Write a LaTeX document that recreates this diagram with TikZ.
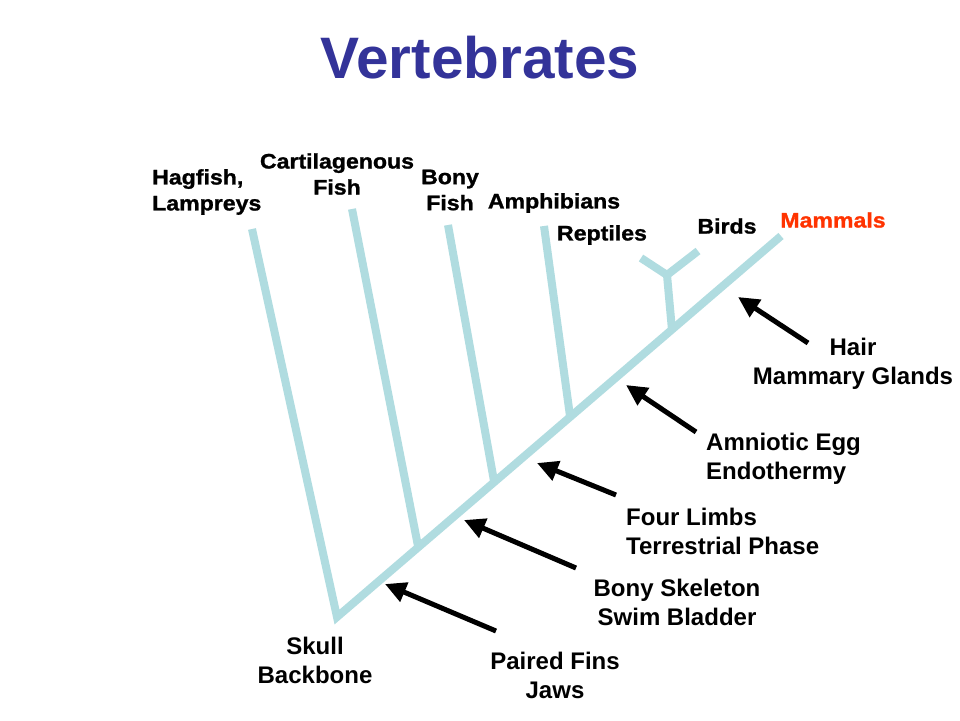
\documentclass[tikz,border=0pt]{standalone}
\usepackage{fontspec}
\setmainfont{Liberation Sans}
\newfontfamily\tipfont[FakeStretch=1.1,FakeBold=1.2]{Liberation Sans}
\usetikzlibrary{arrows.meta}
\definecolor{branch}{RGB}{176,220,224}
\definecolor{titleblue}{RGB}{51,51,153}
\definecolor{mamred}{RGB}{255,51,0}
\tikzset{
  br/.style={draw=branch,line width=8pt,line cap=butt,line join=miter},
  tip/.style={inner sep=0pt,font=\tipfont\bfseries\fontsize{21}{26}\selectfont,align=center},
  trait/.style={inner sep=0pt,font=\bfseries\fontsize{24}{29}\selectfont},
  arr/.style={line width=5pt,-{Triangle[length=21pt,width=20pt]}},
}
\begin{document}
\begin{tikzpicture}[x=1pt,y=-1pt]
\useasboundingbox[fill=white] (0,0) rectangle (960,720);
\node[inner sep=0pt,text=titleblue,font=\bfseries\fontsize{58.5}{64}\selectfont] (title) at (480,58) {Vertebrates};
% tree
\coordinate (root) at (337,617);
\coordinate (mam) at (781,236);
\coordinate (hag) at (252,229);
\coordinate (cartT) at (352,209);
\coordinate (cartB) at (418,546);
\coordinate (bonyT) at (448,225);
\coordinate (bonyB) at (494,481);
\coordinate (amphT) at (544,226);
\coordinate (amphB) at (570,416);
\coordinate (rbB) at (672,330);
\coordinate (rbJ) at (667,275);
\coordinate (rep) at (641,258);
\coordinate (bird) at (698,251);
\draw[br] (hag) -- (root) -- (mam);
\draw[br] (cartT) -- (cartB);
\draw[br] (bonyT) -- (bonyB);
\draw[br] (amphT) -- (amphB);
\draw[br] (rbB) -- (rbJ);
\draw[br] (rep) -- (rbJ) -- (bird);
% tip labels
\node[tip,anchor=west,align=left] (lhag) at (152,192) {Hagfish,\\Lampreys};
\node[tip] (lcart) at (337,174) {Cartilagenous\\Fish};
\node[tip] (lbony) at (450,190) {Bony\\Fish};
\node[tip] (lamph) at (554,203) {Amphibians};
\node[tip] (lrep) at (602,235) {Reptiles};
\node[tip] (lbird) at (727,226) {Birds};
\node[tip,text=mamred] (lmam) at (833,220) {Mammals};
% trait labels
\node[trait,align=center] (tskull) at (315,660) {Skull\\Backbone};
\node[trait,align=center] (tfins) at (555,675) {Paired Fins\\Jaws};
\node[trait,align=center] (tbone) at (677,602) {Bony Skeleton\\Swim Bladder};
\node[trait,align=left,anchor=west] (tlimb) at (626,531) {Four Limbs\\Terrestrial Phase};
\node[trait,align=left,anchor=west] (tegg) at (706,459) {Amniotic Egg\\Endothermy};
\node[trait,align=center] (thair) at (853,364) {Hair\\Mammary Glands};
% arrows
\coordinate (a1s) at (496,631); \coordinate (a1e) at (385,584);
\coordinate (a2s) at (576,568); \coordinate (a2e) at (464,520);
\coordinate (a3s) at (616,495); \coordinate (a3e) at (537,463);
\coordinate (a4s) at (696,432); \coordinate (a4e) at (626,385);
\coordinate (a5s) at (808,343); \coordinate (a5e) at (738,297);
\draw[arr] (a1s) -- (a1e);
\draw[arr] (a2s) -- (a2e);
\draw[arr] (a3s) -- (a3e);
\draw[arr] (a4s) -- (a4e);
\draw[arr] (a5s) -- (a5e);
\end{tikzpicture}
\end{document}
